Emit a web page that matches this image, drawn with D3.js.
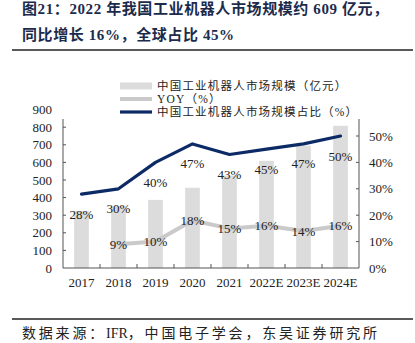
<!DOCTYPE html>
<html><head><meta charset="utf-8">
<script src="https://cdn.jsdelivr.net/npm/d3@7"></script>
<style>body{margin:0;background:#fff}</style>
</head><body>
<svg id="c" width="415" height="343"></svg>
<script>
const categories = ["2017","2018","2019","2020","2021","2022E","2023E","2024E"];
const marketSize = [323, 352, 387, 456, 525, 609, 695, 808];
const yoy = [null, 0.09, 0.10, 0.18, 0.15, 0.16, 0.14, 0.16];
const share = [0.28, 0.30, 0.40, 0.47, 0.43, 0.45, 0.47, 0.50];
const leftTicks = [0,100,200,300,400,500,600,700,800,900];
const rightTicks = [0,0.1,0.2,0.3,0.4,0.5];
const legendLabels = ["中国工业机器人市场规模（亿元）","YOY（%）","中国工业机器人市场规模占比（%）"];

const serif = "'Times New Roman','Liberation Serif','Noto Sans CJK SC',serif";
const cjk = "'Liberation Serif','Noto Sans CJK SC',serif";
const svg = d3.select("#c");
const m = {l:63, r:359, t:109.6, b:268};
const x = d3.scaleBand().domain(categories).range([m.l, m.r]);
const yL = d3.scaleLinear().domain([0,900]).range([m.b, m.t]);
const yR = d3.scaleLinear().domain([0,0.6]).range([m.b, m.t]);
const axisTop = 119;

// title
const title = svg.append("g").attr("font-family", cjk).attr("font-weight","bold").attr("font-size",15).attr("letter-spacing",0.6).attr("fill","#1c2b4c");
title.append("text").attr("x",22).attr("y",13.5).text("图21：2022 年我国工业机器人市场规模约 609 亿元，");
title.append("text").attr("x",22).attr("y",40).text("同比增长 16%，全球占比 45%");
svg.append("line").attr("x1",12).attr("x2",413).attr("y1",50).attr("y2",50).attr("stroke","#222").attr("stroke-width",1.6);
svg.append("line").attr("x1",12).attr("x2",413).attr("y1",319).attr("y2",319).attr("stroke","#222").attr("stroke-width",1.6);
const foot = svg.append("text").attr("x",22).attr("y",338).attr("font-family",cjk).attr("font-size",14).attr("fill","#222");
foot.append("tspan").attr("letter-spacing",2.8).text("数据来源：");
foot.append("tspan").attr("letter-spacing",0).text("IFR");
foot.append("tspan").attr("letter-spacing",2.8).text("，中国电子学会，东吴证券研究所");

// bars
const bw = 14.7;
svg.append("g").selectAll("rect").data(marketSize).join("rect")
  .attr("x",(d,i)=>x(categories[i])+x.bandwidth()/2-bw/2)
  .attr("width",bw)
  .attr("y",d=>yL(d)).attr("height",d=>m.b-yL(d))
  .attr("fill","#dcdcdc");

// axes
const axisG = svg.append("g").attr("stroke","#555").attr("stroke-width",1);
axisG.append("line").attr("x1",m.l).attr("x2",m.l).attr("y1",axisTop).attr("y2",m.b);
axisG.append("line").attr("x1",m.r).attr("x2",m.r).attr("y1",axisTop).attr("y2",m.b);
axisG.append("line").attr("x1",m.l).attr("x2",m.r).attr("y1",m.b).attr("y2",m.b);
leftTicks.filter(t=>yL(t)>=axisTop && t>0).forEach(t=>{
  axisG.append("line").attr("x1",m.l).attr("x2",m.l+3).attr("y1",yL(t)).attr("y2",yL(t));
});
rightTicks.filter(t=>t>0).forEach(t=>{
  axisG.append("line").attr("x1",m.r-3).attr("x2",m.r).attr("y1",yR(t)).attr("y2",yR(t));
});
categories.forEach((c,i)=>{ if(i>0){ const xx=x(c); axisG.append("line").attr("x1",xx).attr("x2",xx).attr("y1",m.b).attr("y2",m.b-4);} });

const lab = svg.append("g").attr("font-family",serif).attr("font-size",13).attr("fill","#222");
leftTicks.forEach(t=>lab.append("text").attr("x",52).attr("y",yL(t)).attr("dy","0.35em").attr("text-anchor","end").text(t));
rightTicks.forEach(t=>lab.append("text").attr("x",369).attr("y",yR(t)).attr("dy","0.35em").text(d3.format(".0%")(t)));
categories.forEach(c=>lab.append("text").attr("x",x(c)+x.bandwidth()/2).attr("y",287).attr("text-anchor","middle").text(c));

// lines
const cx = (d,i)=>x(categories[i])+x.bandwidth()/2;
const yoyLine = d3.line().defined(d=>d!=null).x(cx).y(d=>yR(d));
svg.append("path").datum(yoy).attr("d",yoyLine).attr("fill","none").attr("stroke","#cacaca").attr("stroke-width",4).attr("stroke-linejoin","round");
const shareLine = d3.line().x(cx).y(d=>yR(d));
svg.append("path").datum(share).attr("d",shareLine).attr("fill","none").attr("stroke","#0c2a66").attr("stroke-width",3.2).attr("stroke-linejoin","round").attr("stroke-linecap","round");

// data labels (on top of lines)
const dl = svg.append("g").attr("font-family",serif).attr("font-size",13).attr("fill","#222");
yoy.forEach((d,i)=>{ if(d!=null) dl.append("text").attr("x",cx(d,i)).attr("y",yR(d)).attr("dy","0.35em").attr("text-anchor","middle").text(d3.format(".0%")(d)); });
share.forEach((d,i)=>dl.append("text").attr("x",cx(d,i)).attr("y",yR(d)+20).attr("dy","0.35em").attr("text-anchor","middle").text(d3.format(".0%")(d)));

// legend
const lg = svg.append("g").attr("font-family",cjk).attr("font-size",11.5).attr("letter-spacing",1.2).attr("fill","#222");
const ly = [86, 99, 112];
lg.append("rect").attr("x",120).attr("y",ly[0]-3.5).attr("width",32).attr("height",7).attr("fill","#dcdcdc");
lg.append("line").attr("x1",120).attr("x2",152).attr("y1",ly[1]).attr("y2",ly[1]).attr("stroke","#cacaca").attr("stroke-width",4);
lg.append("line").attr("x1",120).attr("x2",152).attr("y1",ly[2]).attr("y2",ly[2]).attr("stroke","#0c2a66").attr("stroke-width",3.2);
legendLabels.forEach((t,i)=>lg.append("text").attr("x",157).attr("y",ly[i]).attr("dy","0.35em").text(t));
</script>
</body></html>
